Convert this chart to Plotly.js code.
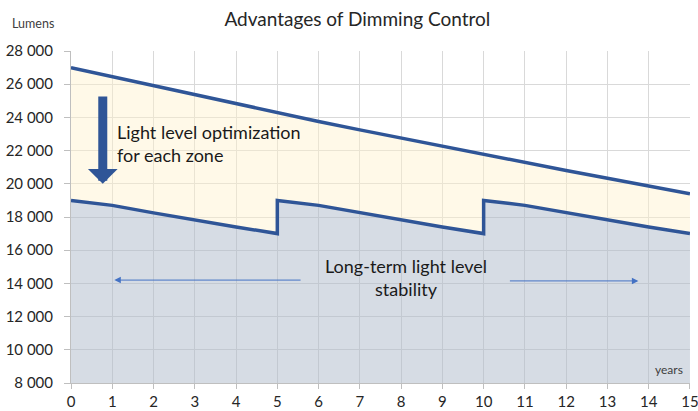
<!DOCTYPE html>
<html>
<head>
<meta charset="utf-8">
<script src="https://cdn.plot.ly/plotly-3.0.1.min.js"></script>
<style>html,body{margin:0;padding:0;background:#fff}#chart{width:698px;height:411px}</style>
</head>
<body>
<div id="chart"></div>
<script>
// Data
const years = [0,1,2,3,4,5,6,7,8,9,10,11,12,13,14,15];
const withoutDimming = [27000,26450,25900,25350,24800,24250,23750,23250,22750,22250,21750,21270,20800,20330,19870,19400];
const dimYears = [0,1,2,3,4,5,5,6,7,8,9,10,10,11,12,13,14,15];
const withDimming = [19000,18700,18250,17800,17400,17000,19000,18700,18250,17800,17400,17000,19000,18700,18250,17800,17400,17000];
const yTicks = [8000,10000,12000,14000,16000,18000,20000,22000,24000,26000,28000];
const xTicks = years;

const lineColor = '#2F5597';
const font = 'Lato, "Open Sans", sans-serif';

const traces = [
  {x: dimYears, y: withDimming, type: 'scatter', mode: 'lines', fill: 'tozeroy',
   fillcolor: 'rgba(173,185,202,0.5)', line: {color: lineColor, width: 3.5}, hoverinfo: 'skip'},
  {x: years, y: withoutDimming, type: 'scatter', mode: 'lines', fill: 'tonexty',
   fillcolor: 'rgba(255,242,204,0.45)', line: {color: lineColor, width: 3.5}, hoverinfo: 'skip'}
];

const layout = {
  width: 698, height: 411,
  margin: {l: 71, r: 8, t: 51, b: 28},
  paper_bgcolor: '#fff', plot_bgcolor: '#fff',
  showlegend: false,
  separators: '. ',
  font: {family: font, color: '#262626'},
  title: {text: 'Advantages of Dimming Control', x: 0.512, xanchor: 'center', y: 0.952, yanchor: 'middle',
          font: {family: font, size: 19, color: '#262626'}},
  xaxis: {range: [0, 15.001], tickvals: xTicks, showgrid: true, gridcolor: '#D9D9D9', zeroline: false,
          showline: true, linecolor: '#BFBFBF', ticks: 'outside', ticklen: 5, tickcolor: '#BFBFBF',
          ticklabelstandoff: 0, ticklabeloverflow: 'allow',
          tickfont: {size: 15, color: '#262626'}, fixedrange: true},
  yaxis: {range: [8000, 28000], tickvals: yTicks, tickformat: ',d', showgrid: true, gridcolor: '#D9D9D9',
          zeroline: false, showline: true, linecolor: '#BFBFBF', ticks: 'outside', ticklen: 6, tickcolor: '#BFBFBF',
          ticklabelstandoff: 8,
          tickfont: {size: 15, color: '#262626'}, fixedrange: true},
  annotations: [
    {xref: 'paper', yref: 'paper', x: -0.098, y: 1.082, text: 'Lumens', showarrow: false,
     xanchor: 'left', yanchor: 'middle', font: {family: font, size: 12.5, color: '#404040'}},
    {xref: 'x', yref: 'paper', x: 14.87, y: 0.04, text: 'years', showarrow: false,
     xanchor: 'right', yanchor: 'middle', font: {family: font, size: 12, color: '#404040'}},
    {xref: 'x', yref: 'y', x: 1.06, y: 22440, text: 'Light level optimization<br>for each zone', showarrow: false,
     xanchor: 'left', yanchor: 'middle', align: 'left', font: {family: font, size: 18, color: '#1a1a1a'}},
    {xref: 'x', yref: 'y', x: 8.13, y: 14370, text: 'Long-term light level<br>stability', showarrow: false,
     xanchor: 'center', yanchor: 'middle', align: 'center', font: {family: font, size: 18, color: '#1a1a1a'}},
    {xref: 'x', yref: 'y', axref: 'x', ayref: 'y', x: 0.77, y: 20000, ax: 0.77, ay: 25350, text: '',
     showarrow: true, arrowhead: 1, arrowwidth: 9, arrowsize: 0.55, arrowcolor: lineColor},
    {xref: 'x', yref: 'y', axref: 'x', ayref: 'y', x: 1.05, y: 14200, ax: 5.6, ay: 14200, text: '',
     showarrow: true, arrowhead: 2, arrowwidth: 1, arrowsize: 1.3, arrowcolor: '#4472C4'},
    {xref: 'x', yref: 'y', axref: 'x', ayref: 'y', x: 13.75, y: 14150, ax: 10.6, ay: 14150, text: '',
     showarrow: true, arrowhead: 2, arrowwidth: 1, arrowsize: 1.3, arrowcolor: '#4472C4'}
  ]
};

Plotly.newPlot('chart', traces, layout, {displayModeBar: false, staticPlot: true});
</script>
</body>
</html>
